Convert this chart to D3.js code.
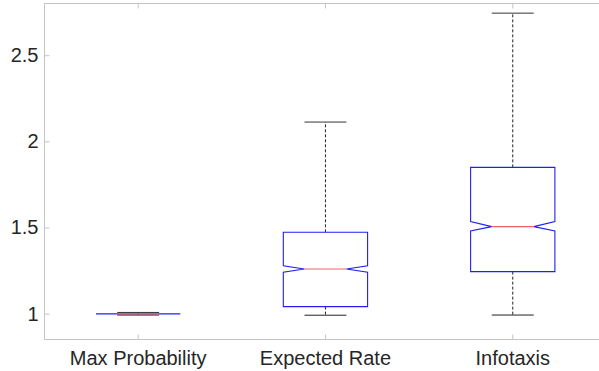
<!DOCTYPE html>
<html>
<head>
<meta charset="utf-8">
<script src="https://cdn.jsdelivr.net/npm/d3@7"></script>
<style>
  body { margin: 0; background: #fff; }
  svg { display: block; font-family: "Liberation Sans", Arial, Helvetica, sans-serif; }
  .axis text { fill: #262626; font-size: 20px; }
  .axis line { stroke: #c4c4c4; }
  .axis path { display: none; }
</style>
</head>
<body>
<svg id="chart" width="599" height="371"></svg>
<script>
// boxplot stats
const categories = ["Max Probability", "Expected Rate", "Infotaxis"];
const lowerWhisker = [0.992, 0.991, 0.992];
const q1 = [0.998, 1.041, 1.244];
const notchLow = [0.998, 1.240, 1.480];
const median = [0.999, 1.259, 1.505];
const notchHigh = [0.999, 1.278, 1.534];
const q3 = [0.999, 1.472, 1.849];
const upperWhisker = [1.007, 2.112, 2.744];
const yTicks = [1, 1.5, 2, 2.5];

const svg = d3.select('#chart');
const plotLeft = 44.5, plotTop = 3.5, plotBottom = 339.5;
const bandW = 187.3;
const plotRight = plotLeft + bandW * categories.length;

const x = d3.scaleBand().domain(categories).range([plotLeft, plotRight]).padding(0);
const y = d3.scaleLinear().domain([0.85, 2.8]).range([plotBottom, plotTop]);

const boxes = categories.map((c, i) => ({
  name: c, lo: lowerWhisker[i], q1: q1[i], nlo: notchLow[i], med: median[i],
  nhi: notchHigh[i], q3: q3[i], hi: upperWhisker[i]
}));

// frame
svg.append('rect')
  .attr('x', plotLeft).attr('y', plotTop)
  .attr('width', plotRight - plotLeft).attr('height', plotBottom - plotTop)
  .attr('fill', 'none').attr('stroke', '#c4c4c4');

svg.append('g').attr('class', 'axis')
  .attr('transform', `translate(${plotLeft},0)`)
  .call(d3.axisLeft(y).tickValues(yTicks).tickFormat(d3.format('')).tickSizeInner(-5).tickSizeOuter(0).tickPadding(6));

svg.append('g').attr('class', 'axis')
  .attr('transform', `translate(0,${plotBottom})`)
  .call(d3.axisBottom(x).tickSizeInner(-5).tickSizeOuter(0).tickPadding(11));

svg.append('g').attr('class', 'axis')
  .attr('transform', `translate(0,${plotTop})`)
  .call(d3.axisTop(x).tickSizeInner(-5).tickSizeOuter(0).tickFormat(''));

const halfBox = bandW * 0.225;
const halfCap = bandW * 0.112;
const halfNotch = halfBox / 2;

const g = svg.selectAll('g.box').data(boxes).join('g').attr('class', 'box')
  .attr('transform', d => `translate(${x(d.name) + x.bandwidth() / 2},0)`);

// whiskers
g.append('line')
  .attr('x1', 0).attr('x2', 0)
  .attr('y1', d => y(d.q3)).attr('y2', d => y(d.hi))
  .attr('stroke', '#222').attr('stroke-dasharray', '3,2');
g.append('line')
  .attr('x1', 0).attr('x2', 0)
  .attr('y1', d => y(d.q1)).attr('y2', d => y(d.lo))
  .attr('stroke', '#222').attr('stroke-dasharray', '3,2');
g.append('line')
  .attr('x1', -halfCap).attr('x2', halfCap)
  .attr('y1', d => y(d.hi)).attr('y2', d => y(d.hi))
  .attr('stroke', '#333');
g.append('line')
  .attr('x1', -halfCap).attr('x2', halfCap)
  .attr('y1', d => y(d.lo)).attr('y2', d => y(d.lo))
  .attr('stroke', '#222');

// notched box
g.append('path')
  .attr('d', d => {
    const p = d3.path();
    p.moveTo(-halfBox, y(d.q3));
    p.lineTo(halfBox, y(d.q3));
    p.lineTo(halfBox, y(d.nhi));
    p.lineTo(halfNotch, y(d.med));
    p.lineTo(halfBox, y(d.nlo));
    p.lineTo(halfBox, y(d.q1));
    p.lineTo(-halfBox, y(d.q1));
    p.lineTo(-halfBox, y(d.nlo));
    p.lineTo(-halfNotch, y(d.med));
    p.lineTo(-halfBox, y(d.nhi));
    p.closePath();
    return p.toString();
  })
  .attr('fill', 'none').attr('stroke', '#2020f0').attr('stroke-width', 1.1);

// median
g.append('line')
  .attr('x1', -halfNotch).attr('x2', halfNotch)
  .attr('y1', d => y(d.med)).attr('y2', d => y(d.med))
  .attr('stroke', '#f06060').attr('stroke-width', 1.1);
</script>
</body>
</html>
